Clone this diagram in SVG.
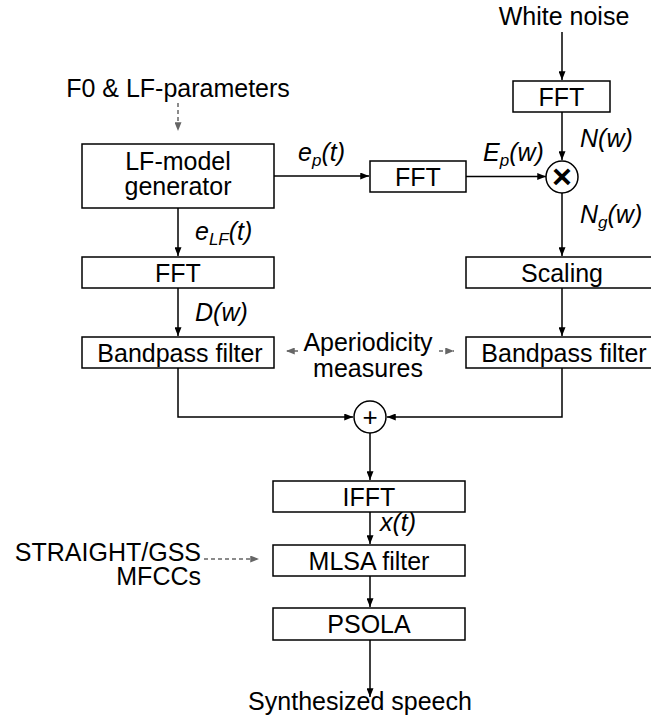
<svg xmlns="http://www.w3.org/2000/svg" width="651" height="715" viewBox="0 0 651 715">
<style>
text{font-family:"Liberation Sans",Arial,sans-serif;font-size:25px;fill:#000}
.c{text-anchor:middle}
.r{text-anchor:end}
.i{font-style:italic}
.sub{font-size:17px}
.box{fill:#fff;stroke:#000;stroke-width:1.5}
.ln{fill:none;stroke:#000;stroke-width:1.5}
.dl{fill:none;stroke:#666;stroke-width:1.5;stroke-dasharray:4 3}
</style>
<defs>
<marker id="a" viewBox="0 0 10 8" refX="10" refY="4" markerWidth="9" markerHeight="7" markerUnits="userSpaceOnUse" orient="auto"><path d="M0,0 L10,4 L0,8 Z" fill="#000"/></marker>
<marker id="g" viewBox="0 0 10 8" refX="10" refY="4" markerWidth="9" markerHeight="7" markerUnits="userSpaceOnUse" orient="auto"><path d="M0,0 L10,4 L0,8 Z" fill="#666"/></marker>
</defs>
<g id="connectors">
<path class="ln" d="M562,32 V80" marker-end="url(#a)"/>
<path class="ln" d="M562,112 V160" marker-end="url(#a)"/>
<path class="dl" d="M178,103 V131" marker-end="url(#g)"/>
<path class="ln" d="M274,176 H369" marker-end="url(#a)"/>
<path class="ln" d="M466,176.5 H546" marker-end="url(#a)"/>
<path class="ln" d="M178,208 V256" marker-end="url(#a)"/>
<path class="ln" d="M178,288 V336" marker-end="url(#a)"/>
<path class="ln" d="M562,193 V256" marker-end="url(#a)"/>
<path class="ln" d="M562,288 V336" marker-end="url(#a)"/>
<path class="dl" d="M298,351 H286" marker-end="url(#g)"/>
<path class="dl" d="M439,351 H454" marker-end="url(#g)"/>
<path class="ln" d="M178,368 V417 H353" marker-end="url(#a)"/>
<path class="ln" d="M562,368 V417 H387" marker-end="url(#a)"/>
<path class="ln" d="M370,433 V480" marker-end="url(#a)"/>
<path class="ln" d="M370,512 V544" marker-end="url(#a)"/>
<path class="dl" d="M204,559 H259" marker-end="url(#g)"/>
<path class="ln" d="M370,576 V607" marker-end="url(#a)"/>
<path class="ln" d="M370,640 V697" marker-end="url(#a)"/>
</g>
<g id="white-noise"><text class="c" x="564" y="25">White noise</text></g>
<g id="fft-noise"><rect class="box" x="513" y="81" width="97" height="31"/><text class="c" x="561.5" y="105.5">FFT</text></g>
<g id="label-nw"><text class="i" x="580" y="147">N(w)</text></g>
<g id="multiply"><circle class="box" cx="562" cy="177" r="16"/><text class="c" x="562" y="188" style="font-size:34px;font-weight:bold">×</text></g>
<g id="label-epw"><text class="i" x="483" y="161">E<tspan class="sub" dy="5">p</tspan><tspan dy="-5">(w)</tspan></text></g>
<g id="label-ngw"><text class="i" x="580" y="223">N<tspan class="sub" dy="5">g</tspan><tspan dy="-5">(w)</tspan></text></g>
<g id="f0-params"><text class="c" x="178" y="97">F0 &amp; LF-parameters</text></g>
<g id="lf-model"><rect class="box" x="82" y="144" width="192" height="64"/><text class="c" x="178" y="170">LF-model</text><text class="c" x="178" y="195">generator</text></g>
<g id="label-ept"><text class="i" x="298" y="161">e<tspan class="sub" dy="5">p</tspan><tspan dy="-5">(t)</tspan></text></g>
<g id="fft-mid"><rect class="box" x="370" y="161" width="96" height="31"/><text class="c" x="418" y="185.5">FFT</text></g>
<g id="label-elft"><text class="i" x="195" y="240">e<tspan class="sub" dy="5">LF</tspan><tspan dy="-5">(t)</tspan></text></g>
<g id="fft-left"><rect class="box" x="82" y="257" width="192" height="31"/><text class="c" x="178" y="281.5">FFT</text></g>
<g id="label-dw"><text class="i" x="195" y="321">D(w)</text></g>
<g id="bandpass-left"><rect class="box" x="82" y="337" width="192" height="31"/><text class="c" x="180" y="361.5">Bandpass filter</text></g>
<g id="scaling"><rect class="box" x="466" y="257" width="192" height="31"/><text class="c" x="562" y="281.5">Scaling</text></g>
<g id="bandpass-right"><rect class="box" x="466" y="337" width="192" height="31"/><text class="c" x="564" y="361.5">Bandpass filter</text></g>
<g id="aperiodicity"><text class="c" x="368" y="351">Aperiodicity</text><text class="c" x="368" y="377">measures</text></g>
<g id="sum"><circle class="box" cx="370" cy="417" r="16"/><text class="c" x="370" y="426" style="font-size:26px">+</text></g>
<g id="ifft"><rect class="box" x="273" y="481" width="192" height="31"/><text class="c" x="369" y="505.5">IFFT</text></g>
<g id="label-xt"><text class="i" x="380" y="531">x(t)</text></g>
<g id="straight"><text class="r" x="201" y="561">STRAIGHT/GSS</text><text class="r" x="201" y="585">MFCCs</text></g>
<g id="mlsa"><rect class="box" x="273" y="545" width="192" height="31"/><text class="c" x="369" y="569.5">MLSA filter</text></g>
<g id="psola"><rect class="box" x="273" y="608" width="192" height="32"/><text class="c" x="369" y="632.5">PSOLA</text></g>
<g id="speech"><text class="c" x="360" y="710">Synthesized speech</text></g>
</svg>
